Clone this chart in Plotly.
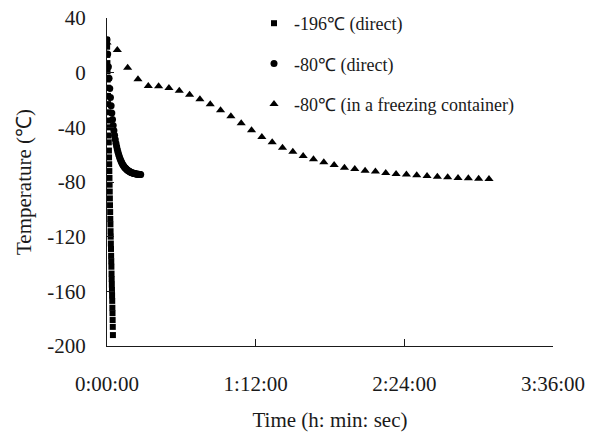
import pandas as pd
import plotly.graph_objects as go

# -196 C (direct): time in seconds, temperature in C
sq_time_s = [0, 4, 8, 12, 16, 20, 24, 28, 32, 36, 40, 44, 48, 52, 56, 60, 64, 68, 72, 76,
             80, 84, 88, 92, 96, 100, 104, 108, 112, 116, 120, 124, 128, 132, 136, 140,
             144, 148, 152, 156, 160, 164, 168, 172]
sq_temp = [24, 19, 13, 7, 1, -5, -11, -17, -23, -29, -35, -40, -46, -51, -57, -62, -67, -72,
           -77, -82, -87, -92, -97, -102, -107, -111, -116, -120, -125, -129, -134, -138,
           -142, -147, -151, -155, -159, -163, -167, -172, -176, -181, -186, -192]

# -80 C (direct)
ci_time_s = [0, 20, 40, 60, 80, 100, 120, 140, 160, 180, 200, 220, 240, 260, 280, 300, 320,
             340, 360, 380, 400, 420, 440, 460, 480, 500, 520, 540, 560, 580, 600, 620, 640,
             660, 680, 700, 720, 740, 760, 780, 800, 820, 840, 860, 880, 900, 920, 940, 960, 980]
ci_temp = [24.0, 13.6, 4.3, -4.0, -11.5, -18.2, -24.2, -29.5, -34.3, -38.6, -42.4, -45.8,
           -48.9, -51.6, -54.1, -56.3, -58.3, -60.0, -61.6, -63.0, -64.3, -65.4, -66.4,
           -67.3, -68.1, -68.8, -69.5, -70.0, -70.5, -71.0, -71.4, -71.8, -72.1, -72.4,
           -72.7, -73.0, -73.2, -73.4, -73.5, -73.7, -73.8, -74.0, -74.1, -74.2, -74.3,
           -74.3, -74.4, -74.5, -74.5, -74.6]

# -80 C (in a freezing container): time in minutes
tr_time_min = [0, 5, 10, 15, 20, 25, 30, 35, 40, 45, 50, 55, 60, 65, 70, 75, 80, 85, 90, 95,
               100, 105, 110, 115, 120, 125, 130, 135, 140, 145, 150, 155, 160, 165, 170,
               175, 180, 185]
tr_temp = [22.0, 16.6, 3.6, -4.8, -9.7, -10.0, -11.2, -13.2, -16.1, -19.5, -23.1, -27.5,
           -31.9, -37.0, -42.1, -47.1, -50.9, -54.9, -57.8, -61.0, -63.4, -65.6, -67.6,
           -69.5, -70.5, -71.7, -72.4, -73.4, -74.1, -74.6, -75.1, -75.6, -76.1, -76.5,
           -77.0, -77.3, -77.6, -77.8]

series_names = ["-196\u2103 (direct)", "-80\u2103 (direct)", "-80\u2103 (in a freezing container)"]
y_ticks = [40, 0, -40, -80, -120, -160, -200]

base = pd.Timestamp("1970-01-01")
to_dt = lambda secs: [base + pd.Timedelta(seconds=s) for s in secs]

FONT = "Liberation Serif, Times New Roman, serif"
INK = "#1a1a1a"

W, H = 589, 432
ML, MB = 107, 86
PLOT_R, PLOT_T = 553, 18          # pixel positions of the plot area's right and top edges
paper_w, paper_h = W - ML, H - MB

fig = go.Figure()
fig.add_trace(go.Scatter(x=to_dt(sq_time_s), y=sq_temp, mode="markers", name=series_names[0],
                         legendgroup="a",
                         marker=dict(symbol="square", size=6, color="black")))
fig.add_trace(go.Scatter(x=to_dt(ci_time_s), y=ci_temp, mode="markers", name=series_names[1],
                         legendgroup="b",
                         marker=dict(symbol="circle", size=7, color="black")))
fig.add_trace(go.Scatter(x=to_dt([m * 60 for m in tr_time_min]), y=tr_temp, mode="markers",
                         name=series_names[2], legendgroup="c",
                         marker=dict(symbol="triangle-up", size=8, color="black")))

fig.update_layout(
    width=W, height=H,
    margin=dict(l=ML, r=0, t=0, b=MB, autoexpand=False),
    paper_bgcolor="white", plot_bgcolor="white",
    font=dict(family=FONT, size=21, color=INK),
    showlegend=True,
    legend=dict(x=(254 - ML) / paper_w, y=(paper_h - 5) / paper_h, xanchor="left", yanchor="top",
                bgcolor="rgba(0,0,0,0)", font=dict(size=18, family=FONT, color=INK),
                tracegroupgap=14, traceorder="grouped", itemwidth=30),
    xaxis=dict(
        type="date", automargin=False,
        domain=[0, (PLOT_R - ML) / paper_w],
        range=[base, base + pd.Timedelta(minutes=216)],
        tick0=base, dtick=72 * 60 * 1000, tickformat="%-H:%M:%S",
        showgrid=False, zeroline=False,
        showline=True, linecolor=INK, linewidth=1,
        ticks="inside", ticklen=7, tickcolor=INK,
        ticklabelstandoff=19,
        title=dict(text="Time (h: min: sec)", standoff=17, font=dict(size=21)),
    ),
    yaxis=dict(
        automargin=False,
        domain=[0, (paper_h - PLOT_T) / paper_h],
        range=[-200, 40], tickvals=y_ticks, ticktext=[str(v) for v in y_ticks],
        showgrid=False, zeroline=False,
        showline=True, linecolor=INK, linewidth=1,
        ticks="inside", ticklen=7, tickcolor=INK,
        ticklabelstandoff=16,
        title=dict(text="Temperature (\u2103)", standoff=9, font=dict(size=21)),
    ),
)

fig.write_html("out.html", config={"displayModeBar": False},
               post_script="document.body.style.margin='0';")
